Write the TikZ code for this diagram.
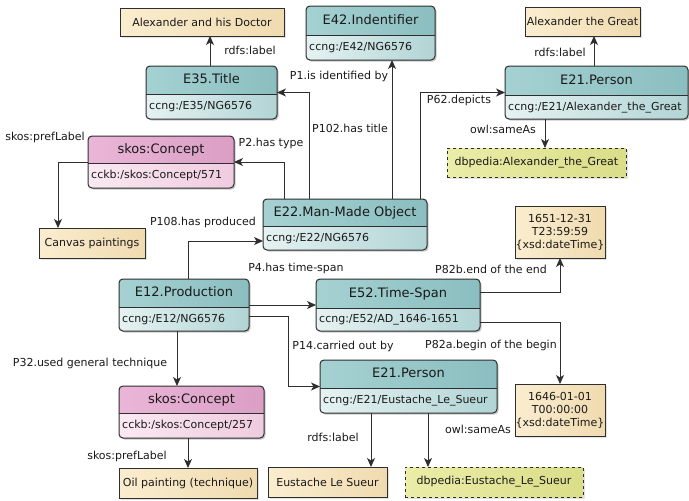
\documentclass[tikz,border=0pt]{standalone}
\usepackage{fontspec}
\setmainfont{DejaVu Sans}
\usetikzlibrary{arrows.meta,shadows}
\definecolor{bline}{HTML}{2E2E2E}
\definecolor{txt}{HTML}{1A1A1A}
\definecolor{cTH1}{HTML}{A5D1D2}
\definecolor{cTH2}{HTML}{8BBEC0}
\definecolor{cTS1}{HTML}{E6F2F2}
\definecolor{cTS2}{HTML}{B1D4D5}
\definecolor{cPH1}{HTML}{EAB6D7}
\definecolor{cPH2}{HTML}{DB9EC5}
\definecolor{cPS1}{HTML}{FAE9F2}
\definecolor{cPS2}{HTML}{EFCBDF}
\definecolor{litL}{HTML}{FAEDCF}
\definecolor{litR}{HTML}{F0DBB0}
\definecolor{dbpL}{HTML}{EBEDA8}
\definecolor{dbpR}{HTML}{DADD88}
\newcommand\cbox[9]{%
  \fill[black,opacity=0.22,rounded corners=4pt] (#2+1.5,#3+1.5) rectangle (#4+1.5,#6+1.5);
  \begin{scope}
    \clip[rounded corners=4pt] (#2,#3) rectangle (#4,#6);
    \fill[left color=#9H1,right color=#9H2] (#2,#3) rectangle (#4,#5);
    \fill[left color=#9S1,right color=#9S2] (#2,#5) rectangle (#4,#6);
  \end{scope}
  \draw[bx,rounded corners=4pt] (#2,#3) rectangle (#4,#6);
  \draw[bx] (#2,#5) -- (#4,#5);
  \node[htxt] (#1-t) at ({(#2+#4)/2},{(#3+#5)/2}) {#7};
  \node[stxt] (#1-s) at (#2+3,{(#5+#6)/2}) {#8};
  \node[inner sep=0pt,outer sep=0pt,minimum width={#4-#2},minimum height={#6-#3}] (#1) at ({(#2+#4)/2},{(#3+#6)/2}) {};
}
\begin{document}
\begin{tikzpicture}[x=1pt,y=-1pt,
  bx/.style={draw=bline,line width=1pt},
  htxt/.style={text=txt,font=\fontsize{13}{15}\selectfont,inner sep=0pt,text height=9.5pt,text depth=2.5pt},
  stxt/.style={text=txt,font=\fontsize{11}{13}\selectfont,inner sep=0pt,anchor=west,text height=8pt,text depth=2pt},
  lit/.style={draw=bline,line width=1pt,left color=litL,right color=litR,text=txt,
    font=\fontsize{11}{13}\selectfont,inner sep=0pt,outer sep=0pt,align=center,
    drop shadow={shadow xshift=1.5pt,shadow yshift=-1.5pt,opacity=0.22}},
  dbp/.style={lit,dashed,left color=dbpL,right color=dbpR},
  lbl/.style={text=txt,font=\fontsize{11}{13}\selectfont,inner sep=0pt},
  arr/.style={draw=bline,line width=1pt,-{Stealth[length=9pt,width=8pt,inset=2.5pt]}}
]
\useasboundingbox[fill=white] (0,0) rectangle (689,501);

% class boxes
\cbox{e42}{306}{6}{435}{35}{60}{E42.Indentifier}{ccng:/E42/NG6576}{cT}
\cbox{e35}{146}{66}{277}{94}{119}{E35.Title}{ccng:/E35/NG6576}{cT}
\cbox{per1}{505}{66}{688}{95}{119}{E21.Person}{ccng:/E21/Alexander\_the\_Great}{cT}
\cbox{sk1}{88}{136}{234}{163}{188}{skos:Concept}{cckb:/skos:Concept/571}{cP}
\cbox{e22}{263}{199}{427}{226}{250}{E22.Man-Made Object}{ccng:/E22/NG6576}{cT}
\cbox{e12}{119}{279}{249}{307}{331}{E12.Production}{ccng:/E12/NG6576}{cT}
\cbox{e52}{316}{279}{480}{308}{331}{E52.Time-Span}{ccng:/E52/AD\_1646-1651}{cT}
\cbox{per2}{320}{360}{497}{388}{413}{E21.Person}{ccng:/E21/Eustache\_Le\_Sueur}{cT}
\cbox{sk2}{119}{386}{264}{413}{438}{skos:Concept}{cckb:/skos:Concept/257}{cP}

% literal boxes
\node[lit,minimum width=164pt,minimum height=28pt] (doc) at (202,22) {Alexander and his Doctor};
\node[lit,minimum width=115pt,minimum height=29pt] (atg) at (582.5,21.5) {Alexander the Great};
\node[dbp,minimum width=179pt,minimum height=29pt] (dbp1) at (536.5,162.5) {dbpedia:Alexander\_the\_Great};
\node[lit,minimum width=106pt,minimum height=30pt] (canvas) at (92,243) {Canvas paintings};
\node[lit,minimum width=90pt,minimum height=52pt] (d1) at (560,232) {1651-12-31\\T23:59:59\\\{xsd:dateTime\}};
\node[lit,minimum width=90pt,minimum height=52pt] (d2) at (560,410) {1646-01-01\\T00:00:00\\\{xsd:dateTime\}};
\node[lit,minimum width=138pt,minimum height=30pt] (oil) at (188,483) {Oil painting (technique)};
\node[lit,minimum width=119pt,minimum height=30pt] (eus) at (327.5,482) {Eustache Le Sueur};
\node[dbp,minimum width=178pt,minimum height=30pt] (dbp2) at (494,482) {dbpedia:Eustache\_Le\_Sueur};

% connector start points
\coordinate (c35) at ([xshift=64pt]e35.north west);
\coordinate (cp2) at ([xshift=21pt]e22.north west);
\coordinate (cp102) at ([xshift=46pt]e22.north west);
\coordinate (cp1) at ([xshift=129pt]e22.north west);
\coordinate (cp62) at ([xshift=157pt]e22.north west);
\coordinate (cpa) at ([xshift=89pt]per1.north west);
\coordinate (csa) at ([xshift=40pt]per1.south west);
\coordinate (ccv) at ([xshift=19pt]canvas.north west);
\coordinate (cp108) at ([xshift=69pt]e12.north west);
\coordinate (cp108e) at ([yshift=9pt]e22.south west);
\coordinate (cp4) at ([yshift=26pt]e12.south east);
\coordinate (cp14) at ([yshift=15pt]e12.south east);
\coordinate (cp32) at ([xshift=58pt]e12.south west);
\coordinate (cp82b) at ([yshift=-13pt]e52.north east);
\coordinate (cp82a) at ([yshift=9pt]e52.south east);
\coordinate (crl2) at ([xshift=51pt]per2.south west);
\coordinate (csa2) at ([xshift=108pt]per2.south west);

% connectors
\draw[arr] (c35) -- (c35 |- doc.south);
\draw[arr] (cp2) |- (sk1.east);
\draw[arr] (cp102) |- (e35.east);
\draw[arr] (cp1) -- (cp1 |- e42.south);
\draw[arr] (cp62) |- (per1.west);
\draw[arr] (cpa) -- (cpa |- atg.south);
\draw[arr] (csa) -- (csa |- dbp1.north);
\draw[arr] (sk1.west) -| (ccv);
\draw[arr] (cp108) |- (cp108e);
\draw[arr] (cp4) -- (cp4 -| e52.west);
\draw[arr] (cp14) -- ++(39,0) |- (per2.west);
\draw[arr] (cp32) -- (cp32 |- sk2.north);
\draw[arr] (oil.north |- sk2.south) -- (oil.north);
\draw[arr] (cp82b) -| (d1.south);
\draw[arr] (cp82a) -| (d2.north);
\draw[arr] (crl2) -- (crl2 |- eus.north);
\draw[arr] (csa2) -- (csa2 |- dbp2.north);

% labels
\node[lbl] (l1) at (250,50) {rdfs:label};
\node[lbl] (l2) at (339,76) {P1.is identified by};
\node[lbl] (l3) at (350,128) {P102.has title};
\node[lbl] (l4) at (459,100) {P62.depicts};
\node[lbl] (l5) at (560,52) {rdfs:label};
\node[lbl] (l6) at (503,129) {owl:sameAs};
\node[lbl] (l7) at (45,137) {skos:prefLabel};
\node[lbl] (l8) at (271,143) {P2.has type};
\node[lbl] (l9) at (203,222) {P108.has produced};
\node[lbl] (l10) at (296,268) {P4.has time-span};
\node[lbl] (l11) at (491,269) {P82b.end of the end};
\node[lbl] (l12) at (343,346) {P14.carried out by};
\node[lbl] (l13) at (491,345) {P82a.begin of the begin};
\node[lbl] (l14) at (90,363) {P32.used general technique};
\node[lbl] (l15) at (127,456) {skos:prefLabel};
\node[lbl] (l16) at (333,437) {rdfs:label};
\node[lbl] (l17) at (478,429) {owl:sameAs};
\end{tikzpicture}
\end{document}
